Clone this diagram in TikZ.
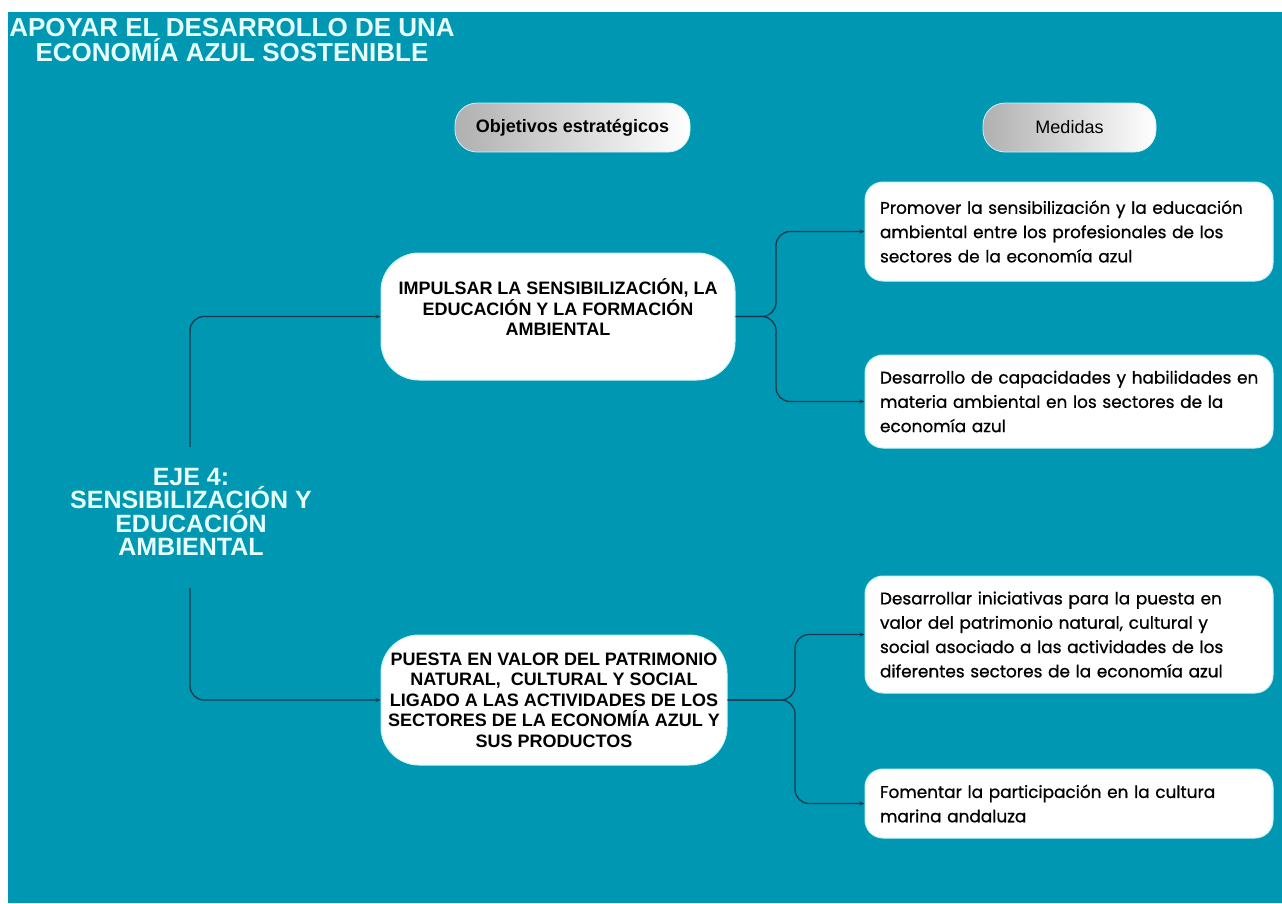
\documentclass[tikz,border=0pt]{standalone}
\usepackage{fontspec}
\setmainfont{Liberation Sans}
\newfontfamily\pop{Poppins}[UprightFeatures={FakeBold=0.8}]
\usetikzlibrary{arrows.meta}
\definecolor{bgteal}{HTML}{0097B2}
\definecolor{lightcyan}{HTML}{E6FFFF}
\definecolor{connc}{HTML}{1C3A4E}
\definecolor{boxedge}{HTML}{C8F4F8}
\begin{document}
\begin{tikzpicture}[x=1pt,y=-1pt,
  conn/.style={draw=connc, line width=1.3pt, rounded corners=14pt, -{Stealth[length=5pt,width=4pt]}},
  pill/.style={rounded corners=22pt, left color=gray!62, right color=white, draw=boxedge, line width=0.8pt, minimum height=49pt, inner sep=0pt, text=black, font=\fontsize{18}{20}\selectfont},
  objbox/.style={fill=white, draw=boxedge, line width=1pt, rounded corners=38pt, inner sep=0pt, align=center, text=black, font=\fontsize{18}{20.5}\selectfont\bfseries},
  medbox/.style={fill=white, draw=boxedge, line width=1pt, rounded corners=18pt, minimum width=408pt, inner xsep=15pt, inner ysep=0pt, text width=378pt, align=left, text=black, font=\pop\fontsize{16.9}{24.3}\selectfont},
  bigtext/.style={text=lightcyan, align=center, font=\bfseries}
]
\useasboundingbox (0,0) rectangle (1282,903);
\fill[white] (0,0) rectangle (1282,903);
\fill[bgteal] (8,12) rectangle (1282,903);

\node[bigtext, font=\fontsize{26}{25}\selectfont\bfseries] (title) at (232,40) {APOYAR EL DESARROLLO DE UNA\\ECONOMÍA AZUL SOSTENIBLE};

\node[pill, minimum width=235pt, font=\fontsize{18}{20}\selectfont\bfseries] (hobj) at (572.5,127.5) {Objetivos estratégicos};
\node[pill, minimum width=173pt] (hmed) at (1069.5,127.5) {Medidas};

\node[bigtext, font=\fontsize{25}{23.3}\selectfont\bfseries] (eje) at (191,512) {EJE 4:\\SENSIBILIZACIÓN Y\\EDUCACIÓN\\AMBIENTAL};

\node[objbox, minimum width=354pt, minimum height=127pt] (obj1) at (558,316.5) {IMPULSAR LA SENSIBILIZACIÓN, LA\\EDUCACIÓN Y LA FORMACIÓN\\AMBIENTAL\rule[-18pt]{0pt}{18pt}};
\node[objbox, minimum width=346pt, minimum height=130pt] (obj2) at (554,700) {PUESTA EN VALOR DEL PATRIMONIO\\NATURAL,\ \ CULTURAL Y SOCIAL\\LIGADO A LAS ACTIVIDADES DE LOS\\SECTORES DE LA ECONOMÍA AZUL Y\\SUS PRODUCTOS};

\node[medbox, minimum height=99pt] (med1) at (1069,231.5) {Promover la sensibilización y la educación\\ambiental entre los profesionales de los\\sectores de la economía azul};
\node[medbox, minimum height=93pt] (med2) at (1069,401.5) {\mbox{Desarrollo de capacidades y habilidades en}\\materia ambiental en los sectores de la\\economía azul};
\node[medbox, minimum height=117pt] (med3) at (1069,634.5) {Desarrollar iniciativas para la puesta en\\valor del patrimonio natural, cultural y\\social asociado a las actividades de los\\diferentes sectores de la economía azul};
\node[medbox, minimum height=69pt] (med4) at (1069,803.5) {Fomentar la participación en la cultura\\marina andaluza};

\coordinate (ejetop) at (190,447);
\coordinate (ejebot) at (190,588);
\coordinate (j1) at (776,316.5);
\coordinate (j2) at (795,700);

\draw[conn] (ejetop) |- (obj1.west);
\draw[conn] (ejebot) |- (obj2.west);
\draw[conn] (obj1.east) -- (j1) |- (med1.west);
\draw[conn] (obj1.east) -- (j1) |- (med2.west);
\draw[conn] (obj2.east) -- (j2) |- (med3.west);
\draw[conn] (obj2.east) -- (j2) |- (med4.west);
\end{tikzpicture}
\end{document}
